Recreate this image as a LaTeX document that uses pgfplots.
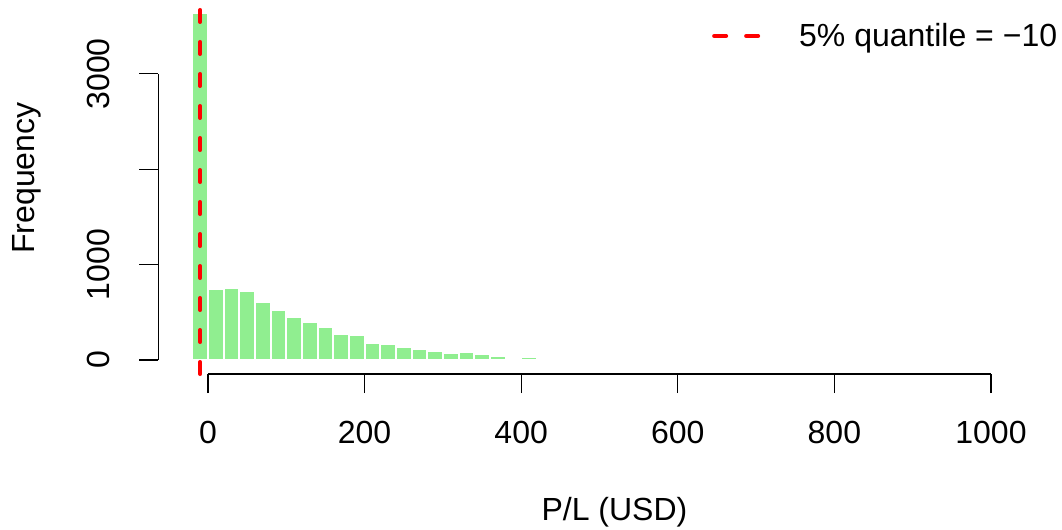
\documentclass[border=0pt]{standalone}
\usepackage{fontspec}
\setmainfont{Liberation Sans}
\usepackage{pgfplots}
\pgfplotsset{compat=1.18}
\definecolor{lightgreen}{HTML}{90EE90}

% histogram counts, bins of width 20 (left edge, count)
\begin{document}
\begin{tikzpicture}
\begin{axis}[
    scale only axis,
    width=451.85pt, height=187pt,
    xmin=-63.5, xmax=1090.7,
    ymin=-146.75, ymax=3774,
    clip=false,
    axis x line*=bottom, axis y line*=left,
    x axis line style={-, line width=0.6pt, shorten <=24.85pt, shorten >=35.5pt},
    y axis line style={-, line width=0.6pt, shorten <=7pt, shorten >=36.85pt},
    tick align=outside,
    major tick length=9.5pt,
    every tick/.style={black, line width=0.6pt},
    xtick={0,200,400,600,800,1000},
    ytick={0,1000,2000,3000},
    yticklabels={0,1000,,3000},
    /pgf/number format/assume math mode=true,
    /pgf/number format/set thousands separator={},
    tick label style={font=\fontsize{16}{19}\selectfont},
    xticklabel style={anchor=base, yshift=-25pt},
    yticklabel style={xshift=-15pt, rotate=90, anchor=base},
    xlabel={P/L (USD)},
    ylabel={Frequency},
    every axis x label/.style={at={(axis description cs:0.5048,-0.3904)}, anchor=base, font=\fontsize{16}{19}\selectfont},
    every axis y label/.style={at={(axis description cs:-0.1364,0.5241)}, rotate=90, anchor=base, font=\fontsize{16}{19}\selectfont},
    legend style={at={(axis description cs:0.6058,0.9037)}, anchor=west, draw=none, fill=none,
        font=\fontsize{16}{19}\selectfont,
        /tikz/every odd column/.append style={column sep=17.5pt}},
    legend image code/.code={\draw[#1, line width=2pt, dash pattern=on 6pt off 10pt, line cap=round] (0pt,0pt) -- (22pt,0pt);},
]
\addplot[ybar interval, fill=lightgreen, draw=white, line width=1pt, forget plot] coordinates {
(-20,3641) (0,744) (20,751) (40,720) (60,605) (80,521) (100,455) (120,395)
(140,342) (160,272) (180,258) (200,177) (220,173) (240,133) (260,120) (280,91)
(300,77) (320,84) (340,60) (360,39) (380,14) (400,32) (420,22) (440,16) (460,22)
(480,3) (500,2) (520,1) (540,2) (560,1) (580,0) (600,1) (620,0) (640,1) (660,0)
(680,0) (700,1) (720,0) (740,0) (760,0) (780,1) (800,0) (820,0) (840,0) (860,0)
(880,0) (900,0) (920,0) (940,0) (960,0) (980,0) (1000,0) (1020,0) (1040,1) (1060,0)
};
\addplot[red, line width=2pt, dash pattern=on 6pt off 10pt, line cap=round] coordinates {(-10,-146.75) (-10,3774)};
\addlegendentry{5\% quantile = −10}
\coordinate (bl) at (axis cs:-265.6,-1771.5);
\coordinate (tr) at (axis cs:1090.7,3774);
\end{axis}
\pgfresetboundingbox
\path[use as bounding box] (bl) rectangle (tr);
\end{tikzpicture}
\end{document}
